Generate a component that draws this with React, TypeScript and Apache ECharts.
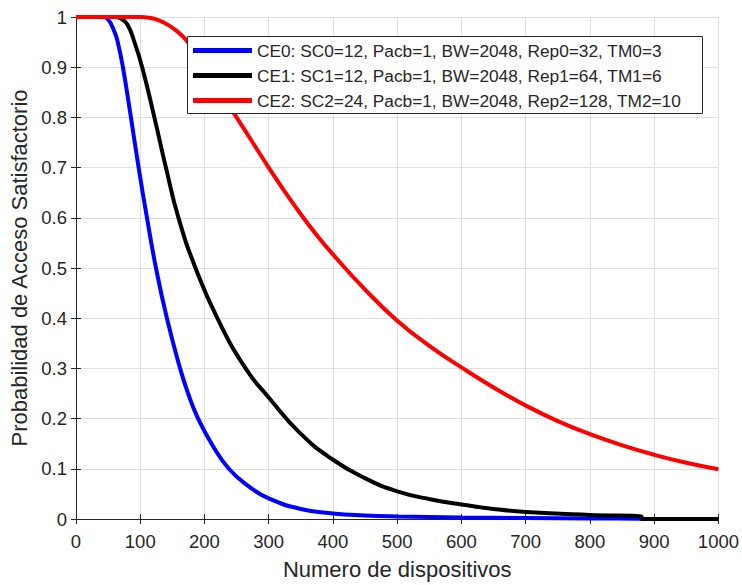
import React, { useEffect, useRef } from "react";
import * as echarts from "echarts";

const xTicks = [0, 100, 200, 300, 400, 500, 600, 700, 800, 900, 1000];
const yTicks = [0, 0.1, 0.2, 0.3, 0.4, 0.5, 0.6, 0.7, 0.8, 0.9, 1];

const seriesNames = [
  "CE0: SC0=12, Pacb=1, BW=2048, Rep0=32, TM0=3",
  "CE1: SC1=12, Pacb=1, BW=2048, Rep1=64, TM1=6",
  "CE2: SC2=24, Pacb=1, BW=2048, Rep2=128, TM2=10",
];
const seriesColors = ["#0000ff", "#000000", "#ff0000"];

const ce0X = [0, 40, 50, 60, 65, 73, 85.5, 97.5, 110.5, 124.5, 141.5, 162, 174.5, 190, 211, 238, 270, 300, 350, 400, 450, 500, 600, 700, 800, 880, 881, 1000];
const ce0Y = [1, 1, 0.995, 0.97, 0.95, 0.9, 0.8, 0.7, 0.6, 0.5, 0.4, 0.3, 0.25, 0.2, 0.15, 0.1, 0.064, 0.041, 0.02, 0.011, 0.007, 0.005, 0.003, 0.002, 0.001, 0.0005, 0, 0];

const ce1X = [0, 60, 70, 80, 91, 103, 122, 140, 159.5, 186, 220, 264, 300, 348, 400, 452, 500, 553, 600, 650, 700, 800, 880, 881, 1000];
const ce1Y = [1, 1, 0.997, 0.985, 0.95, 0.9, 0.8, 0.7, 0.6, 0.5, 0.4, 0.3, 0.242, 0.172, 0.118, 0.08, 0.055, 0.039, 0.029, 0.02, 0.014, 0.008, 0.005, 0, 0];

const ce2X = [0, 100, 110, 120, 135, 155, 171, 185, 200, 225, 250, 275, 300, 325, 350, 375, 400, 450, 500, 550, 600, 650, 700, 750, 800, 850, 900, 950, 1000];
const ce2Y = [1, 1, 0.999, 0.997, 0.99, 0.974, 0.955, 0.93, 0.9, 0.85, 0.8, 0.75, 0.7, 0.652, 0.607, 0.565, 0.527, 0.457, 0.395, 0.345, 0.302, 0.262, 0.226, 0.195, 0.169, 0.147, 0.128, 0.112, 0.099];

const xs = [ce0X, ce1X, ce2X];
const ys = [ce0Y, ce1Y, ce2Y];

const FONT = "'Liberation Sans', Arial, Helvetica, sans-serif";
const TXT = "#262626";

export default function App() {
  const ref = useRef<HTMLDivElement>(null);
  useEffect(() => {
    if (!ref.current) return;
    const chart = echarts.init(ref.current, undefined, { renderer: "svg" });
    const gridL = 76, gridT = 17, gridW = 643, gridH = 507;
    const axisCommon = {
      axisLine: { show: true, lineStyle: { color: TXT, width: 1 } },
      axisTick: { show: true, inside: true, length: 5, lineStyle: { color: TXT } },
    };
    chart.setOption({
      animation: false,
      backgroundColor: "#ffffff",
      textStyle: { fontFamily: FONT },
      grid: { left: gridL, top: gridT, width: gridW, height: gridH, containLabel: false },
      xAxis: [
        {
          type: "value",
          min: 0,
          max: 1000,
          interval: 100,
          position: "bottom",
          ...axisCommon,
          axisLabel: {
            color: TXT,
            fontSize: 18.5,
            fontFamily: FONT,
            margin: 13,
            formatter: (v: number) => (xTicks.includes(v) ? String(v) : ""),
          },
          splitLine: { show: true, lineStyle: { color: "#dfdfdf", width: 1 } },
          name: "Numero de dispositivos",
          nameLocation: "middle",
          nameGap: 39,
          nameTextStyle: { color: TXT, fontSize: 22, fontFamily: FONT },
        },
        {
          type: "value",
          min: 0,
          max: 1000,
          interval: 100,
          position: "top",
          ...axisCommon,
          axisLabel: { show: false },
          splitLine: { show: false },
        },
      ],
      yAxis: [
        {
          type: "value",
          min: 0,
          max: 1,
          interval: 0.1,
          position: "left",
          ...axisCommon,
          axisLabel: {
            color: TXT,
            fontSize: 18.5,
            fontFamily: FONT,
            margin: 9,
            padding: [5, 0, 0, 0],
            formatter: (v: number) => {
              const r = Math.round(v * 10) / 10;
              const t = yTicks.find((k) => Math.abs(k - r) < 1e-9);
              return t === undefined ? "" : String(t);
            },
          },
          splitLine: { show: true, lineStyle: { color: "#dfdfdf", width: 1 } },
          name: "Probabilidad de Acceso Satisfactorio",
          nameLocation: "middle",
          nameGap: 45,
          nameRotate: 90,
          nameTextStyle: { color: TXT, fontSize: 22, fontFamily: FONT },
        },
        {
          type: "value",
          min: 0,
          max: 1,
          interval: 0.1,
          position: "right",
          ...axisCommon,
          axisLabel: { show: false },
          splitLine: { show: false },
        },
      ],
      legend: {
        orient: "vertical",
        left: 193,
        top: 42,
        padding: 0,
        itemGap: 8,
        itemWidth: 59,
        itemHeight: 5,
        icon: "rect",
        selectedMode: false,
        textStyle: { color: TXT, fontSize: 17.3, fontFamily: FONT, lineHeight: 17 },
        data: seriesNames,
        z: 10,
      },
      graphic: [
        {
          type: "rect",
          z: 5,
          shape: { x: 187.5, y: 36.5, width: 515, height: 77 },
          style: { fill: "#ffffff", stroke: TXT, lineWidth: 1 },
        },
      ],
      series: seriesNames.map((name, i) => ({
        name,
        type: "line",
        xAxisIndex: 0,
        yAxisIndex: 0,
        showSymbol: false,
        symbol: "none",
        smooth: 0.5,
        color: seriesColors[i],
        lineStyle: { color: seriesColors[i], width: 4 },
        data: xs[i].map((x, j) => [x, ys[i][j]]),
        z: 2 + i,
      })),
    });
    return () => chart.dispose();
  }, []);
  return (
    <div
      ref={ref}
      style={{ position: "fixed", left: 0, top: 0, width: 742, height: 585, background: "#fff" }}
    />
  );
}
